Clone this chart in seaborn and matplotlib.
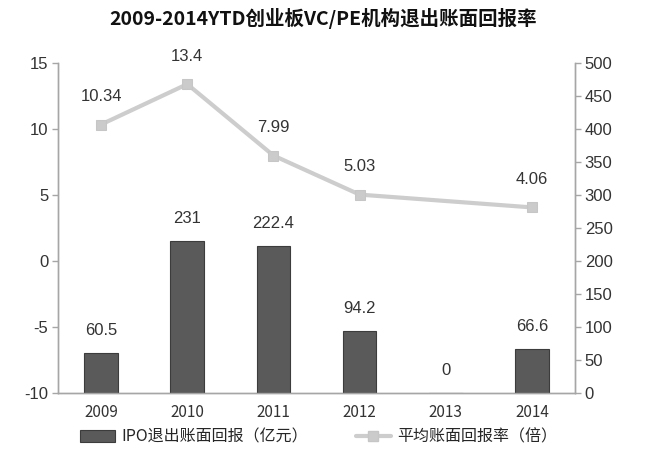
import pandas as pd
import matplotlib.pyplot as plt
import seaborn as sns
from matplotlib.patches import Patch
from matplotlib.lines import Line2D

# Data
years = ['2009', '2010', '2011', '2012', '2013', '2014']
ipo_return = [60.5, 231, 222.4, 94.2, 0, 66.6]          # IPO退出账面回报（亿元）, right axis
avg_multiple = [10.34, 13.4, 7.99, 5.03, None, 4.06]     # 平均账面回报率（倍）, left axis

bar_color = '#5a5a5a'
line_color = '#cdcdcd'
axis_color = '#a6a6a6'
cjk = ['Noto Sans CJK SC', 'DejaVu Sans']

sns.set_style('white')
plt.rcParams['font.family'] = ['Liberation Sans', 'Noto Sans CJK SC', 'DejaVu Sans']
plt.rcParams['axes.unicode_minus'] = False

fig = plt.figure(figsize=(6.5, 4.74), dpi=100)
ax = fig.add_axes([58 / 650, 1 - 393 / 474, (575 - 58) / 650, (393 - 63) / 474])
ax2 = ax.twinx()

# Bars on the right axis
sns.barplot(x=years, y=ipo_return, ax=ax2, color=bar_color, saturation=1,
            width=0.39, edgecolor='#3c3c3c', linewidth=0.8)

# Line on the left axis (2013 has no value, line jumps from 2012 to 2014)
line_df = pd.DataFrame({'pos': range(len(years)), 'val': avg_multiple}).dropna()
sns.lineplot(data=line_df, x='pos', y='val', ax=ax, color=line_color, lw=3,
             marker='s', markersize=7.5, markeredgecolor='#c6c6c6',
             markerfacecolor='#cbcbcb')

# Axes setup
ax.set_xlim(-0.5, len(years) - 0.5)
ax.set_ylim(-10, 15)
ax.set_yticks(range(-10, 16, 5))
ax2.set_ylim(0, 500)
ax2.set_yticks(range(0, 501, 50))
ax.set_xticks(range(len(years)))
ax.set_xticklabels(years, family=cjk, fontsize=11, color='#333333')
ax.set_xticks([i - 0.5 for i in range(len(years) + 1)], minor=True)
ax.set_xlabel('')
ax.set_ylabel('')
ax2.set_xlabel('')
ax2.set_ylabel('')

ax.tick_params(axis='x', which='major', length=0, pad=8)
ax.tick_params(axis='x', which='minor', length=5, width=1, color=axis_color, direction='out')
ax.tick_params(axis='y', length=4, width=1, color=axis_color, labelsize=12,
               labelcolor='#333333', pad=3, direction='out', left=True)
ax2.tick_params(axis='y', length=4, width=1, color=axis_color, labelsize=12,
                labelcolor='#333333', pad=3, direction='out', right=True)

for a in (ax, ax2):
    a.spines['top'].set_visible(False)
    for s in ('left', 'right', 'bottom'):
        a.spines[s].set_color(axis_color)
        a.spines[s].set_linewidth(1)
    a.grid(False)

# Value labels
for i, v in enumerate(avg_multiple):
    if v is not None:
        ax.annotate(f'{v:g}', (i, v), xytext=(0, 20), textcoords='offset points',
                    ha='center', va='center', fontsize=12, color='#333333')
for i, v in enumerate(ipo_return):
    ax2.annotate(f'{v:g}', (i, v), xytext=(0, 16), textcoords='offset points',
                 ha='center', va='center', fontsize=12, color='#333333')

# Title
fig.text(0.497, 0.962, '2009-2014YTD创业板VC/PE机构退出账面回报率', ha='center', va='center',
         fontsize=14, fontweight='bold', family=cjk, color='#111111')

# Legend
handles = [
    Patch(facecolor=bar_color, edgecolor='#3c3c3c', linewidth=0.8),
    Line2D([0], [0], color=line_color, lw=3, marker='s', markersize=7.5,
           markerfacecolor='#cbcbcb', markeredgecolor='#c6c6c6'),
]
labels = ['IPO退出账面回报（亿元）', '平均账面回报率（倍）']
fig.legend(handles, labels, loc='center', bbox_to_anchor=(0.49, 0.078), ncol=2,
           frameon=False, prop={'family': cjk, 'size': 11.5}, handlelength=2.2,
           columnspacing=3.0, handletextpad=0.4)

plt.savefig('out.png', dpi=100)
